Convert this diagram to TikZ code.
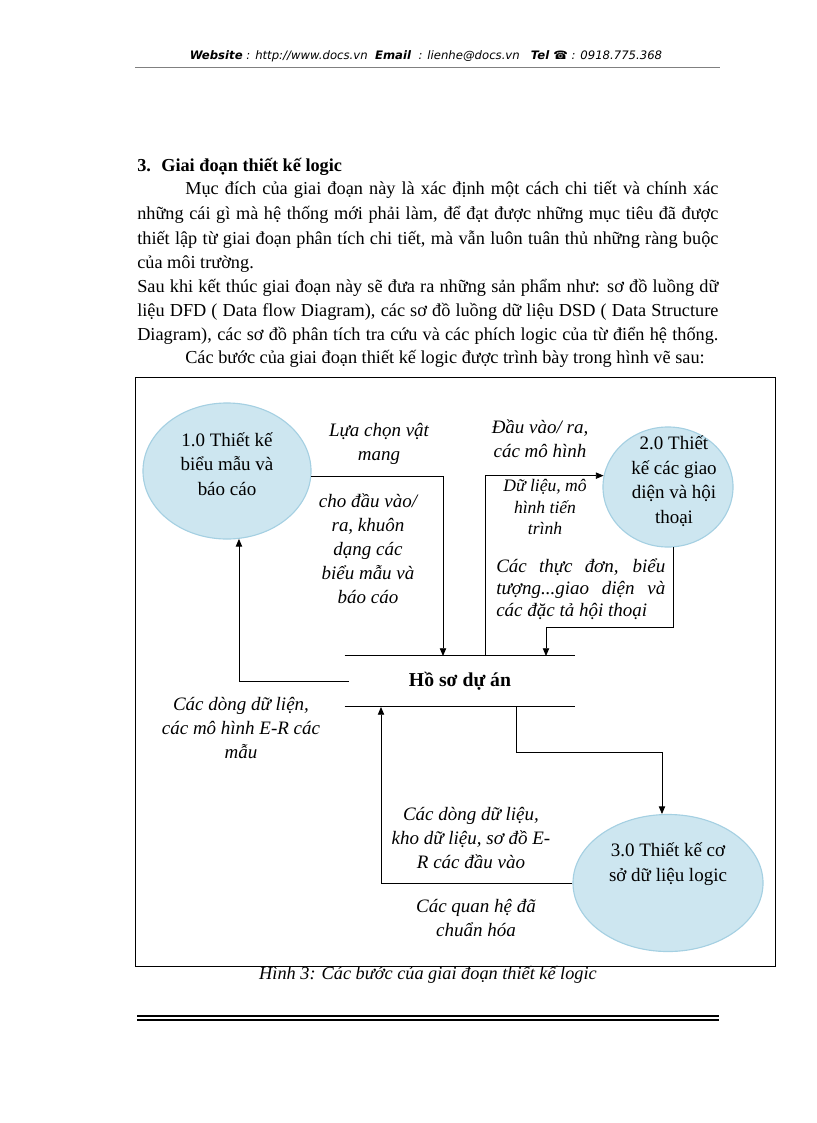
\documentclass[tikz,border=0pt]{standalone}
\usepackage{fontspec}
\setmainfont{Liberation Serif}
\newfontfamily\webfont{DejaVu Sans}
\usetikzlibrary{shapes.geometric,arrows.meta,positioning}
\definecolor{procfill}{RGB}{205,230,240}
\definecolor{procline}{RGB}{165,208,226}

\begin{document}
\begin{tikzpicture}[x=0.025cm, y=-0.025cm,
    proc/.style={ellipse, draw=procline, fill=procfill, line width=0.8pt, inner sep=0},
    proctext/.style={align=center, font=\fontsize{13.5}{17.5}\selectfont},
    flow/.style={align=center, font=\fontsize{13.5}{17}\selectfont\itshape},
    para/.style={anchor=base west, inner sep=0, font=\fontsize{13}{17}\selectfont},
    link/.style={line width=0.6pt},
    >={Triangle[length=5.5pt,width=4.5pt]}
]
    \useasboundingbox (0,0) rectangle (816,1123);

    % Header
    \node[font=\webfont\fontsize{8.3}{10}\selectfont\itshape] (head) at (426,56)
        {\textbf{Website} : http://www.docs.vn \ \textbf{Email} \ : lienhe@docs.vn \ \ \textbf{Tel ☎} : 0918.775.368};
    \draw[line width=0.4pt, gray] (135,67) -- (720,67);

    % Text above the figure
    \node[para, font=\fontsize{13}{17}\selectfont\bfseries] (sec) at (137,172) {\makebox[0.6cm][l]{3.}Giai đoạn thiết kế logic};
    \node[para] (p1) at (185,195) {\makebox[13.325cm][s]{Mục đích của giai đoạn này là xác định một cách chi tiết và chính xác}};
    \node[para] (p2) at (137,220) {\makebox[14.525cm][s]{những cái gì mà hệ thống mới phải làm, để đạt được những mục tiêu đã được}};
    \node[para] (p3) at (137,244) {\makebox[14.525cm][s]{thiết lập từ giai đoạn phân tích chi tiết, mà vẫn luôn tuân thủ những ràng buộc}};
    \node[para] (p4) at (137,268) {của môi trường.};
    \node[para] (p5) at (137,292) {\makebox[14.525cm][s]{Sau khi kết thúc giai đoạn này sẽ đưa ra những sản phẩm như: sơ đồ luồng dữ}};
    \node[para] (p6) at (137,316) {\makebox[14.525cm][s]{liệu DFD ( Data flow Diagram), các sơ đồ luồng dữ liệu DSD ( Data Structure}};
    \node[para] (p7) at (137,340) {\makebox[14.525cm][s]{Diagram), các sơ đồ phân tích tra cứu và các phích logic của từ điển hệ thống.}};
    \node[para] (p8) at (185,363) {Các bước của giai đoạn thiết kế logic được trình bày trong hình vẽ sau:};

    % Frame
    \draw[line width=0.7pt] (135,377) rectangle (775,966);

    % Processes
    \node[proc, minimum width=4.2cm, minimum height=3.4cm] (e1) at (227,471) {};
    \node[proc, minimum width=3.25cm, minimum height=3cm] (e2) at (668,487) {};
    \node[proc, minimum width=4.75cm, minimum height=3.425cm] (e3) at (668,883) {};
    \node[proctext] (t1) at (227,464) {1.0 Thiết kế\\biểu mẫu và\\báo cáo};
    \node[proctext] (t2) at (674,481) {2.0 Thiết\\kế các giao\\diện và hội\\thoại};
    \node[proctext] (t3) at (668,864) {3.0 Thiết kế cơ\\sở dữ liệu logic};

    % Data store
    \node[minimum width=5.75cm, minimum height=1.275cm, font=\fontsize{14}{17}\selectfont\bfseries] (hs) at (460,681) {Hồ sơ dự án};
    \draw[link] (hs.north west) -- (hs.north east);
    \draw[link] (hs.south west) -- (hs.south east);
    \coordinate (hsA) at (443,656);
    \coordinate (hsB) at (485,656);
    \coordinate (hsC) at (546,656);
    \coordinate (hsD) at (381,707);
    \coordinate (hsE) at (516,707);
    \coordinate (hsL) at (349,681);

    % Flows
    \draw[link,->] (e1.-4) -| (hsA);
    \draw[link,->] (hsB) |- (e2.170);
    \draw[link,->] (e2.-85) -- ++(0,80) -| (hsC);
    \draw[link,->] (hsL) -| (e1.-80);
    \draw[link,->] (e3.west) -| (hsD);
    \draw[link,->] (hsE) -- ++(0,45) -| (e3.95);

    % Flow labels
    \node[flow] (f1) at (379,444) {Lựa chọn vật\\mang};
    \node[flow] (f2) at (368,549) {cho đầu vào/\\ra, khuôn\\dạng các\\biểu mẫu và\\báo cáo};
    \node[flow] (f3) at (540,439) {Đầu vào/ ra,\\các mô hình};
    \node[flow, font=\fontsize{12.5}{15.5}\selectfont\itshape] (f4) at (545,507) {Dữ liệu, mô\\hình tiến\\trình};
    \node[flow, align=left, anchor=west, inner sep=0, font=\fontsize{13.5}{15.6}\selectfont\itshape] (f5) at (496,589)
        {\makebox[4.225cm][s]{Các thực đơn, biểu}\\\makebox[4.225cm][s]{tượng...giao diện và}\\các đặc tả hội thoại};
    \node[flow] (f6) at (241,728) {Các dòng dữ liện,\\các mô hình E-R các\\mẫu};
    \node[flow] (f7) at (471,838) {Các dòng dữ liệu,\\kho dữ liệu, sơ đồ E-\\R các đầu vào};
    \node[flow] (f8) at (476,918) {Các quan hệ đã\\chuẩn hóa};

    % Caption and footer
    \node[flow, font=\fontsize{13}{17}\selectfont\itshape] (cap) at (428,975) {Hình 3: Các bước của giai đoạn thiết kế logic};
    \draw[line width=0.8pt] (137,1016) -- (719,1016);
    \draw[line width=0.8pt] (137,1020) -- (719,1020);
\end{tikzpicture}
\end{document}
